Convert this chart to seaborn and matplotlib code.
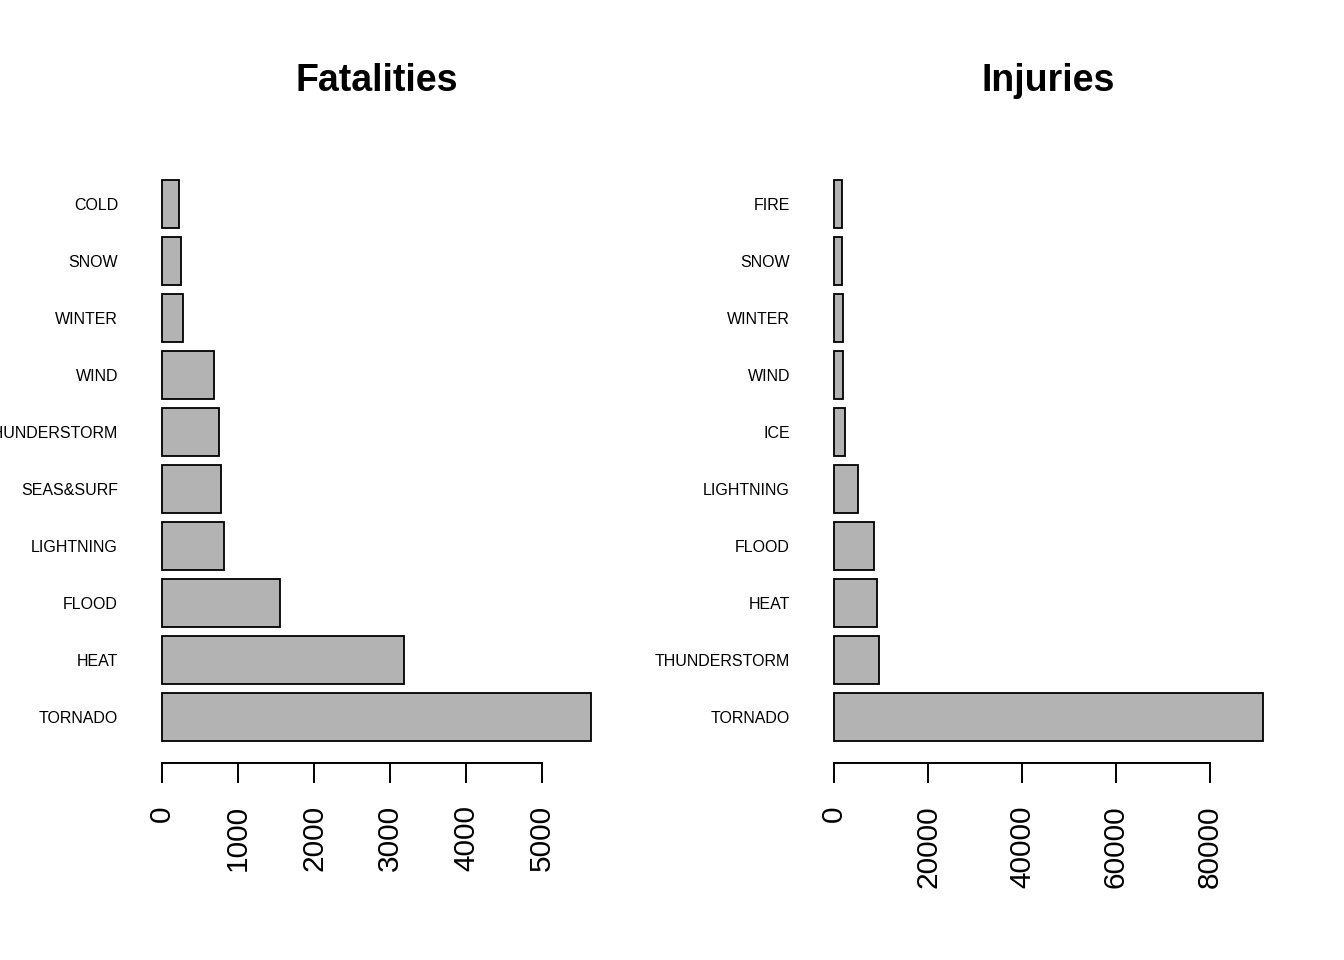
import matplotlib
matplotlib.use("Agg")
import matplotlib.pyplot as plt
import pandas as pd
import seaborn as sns

# ---------------------------------------------------------------------------
# Data (top-to-bottom order as drawn)
# ---------------------------------------------------------------------------
fatal_events = ["COLD", "SNOW", "WINTER", "WIND", "THUNDERSTORM",
                "SEAS&SURF", "LIGHTNING", "FLOOD", "HEAT", "TORNADO"]
fatal_values = [224, 250, 276, 684, 750, 776, 816, 1553, 3184, 5645]
fatal_ticks = [0, 1000, 2000, 3000, 4000, 5000]

injury_events = ["FIRE", "SNOW", "WINTER", "WIND", "ICE",
                 "LIGHTNING", "FLOOD", "HEAT", "THUNDERSTORM", "TORNADO"]
injury_values = [1608, 1700, 1900, 1915, 2340, 5107, 8512, 9150, 9576, 91290]
injury_ticks = [0, 20000, 40000, 60000, 80000]

sns.set_style("white", {"axes.edgecolor": "black", "text.color": "black",
                        "xtick.color": "black", "ytick.color": "black"})
plt.rcParams["font.family"] = ["Liberation Sans", "DejaVu Sans"]

W, H = 1344, 960
fig = plt.figure(figsize=(W / 100, H / 100), dpi=100)


def panel(left_px, right_px, events, values, ticks, title):
    top_px, bottom_px = 158, 763
    ax = fig.add_axes([left_px / W, 1 - bottom_px / H,
                       (right_px - left_px) / W, (bottom_px - top_px) / H])
    df = pd.DataFrame({"event": events, "value": values})
    sns.barplot(data=df, x="value", y="event", order=events, orient="h",
                color="#B3B3B3", saturation=1, edgecolor="black",
                linewidth=1.3, width=0.833, ax=ax)
    vmax = max(values)
    ax.set_xlim(-0.04 * vmax, 1.04 * vmax)
    ax.set_ylim(len(events) - 1 + 0.81, -0.81)
    for side in ["top", "right", "left"]:
        ax.spines[side].set_visible(False)
    ax.spines["bottom"].set_bounds(ticks[0], ticks[-1])
    ax.spines["bottom"].set_linewidth(1.4)
    ax.spines["bottom"].set_color("black")
    ax.set_xticks(ticks)
    ax.set_xticklabels([str(t) for t in ticks], rotation=90, fontsize=21.5)
    ax.tick_params(axis="x", length=14.4, width=1.4, pad=16, bottom=True,
                   colors="black")
    ax.tick_params(axis="y", length=0, pad=19.4, labelsize=11.5,
                   labelcolor="black")
    ax.set_xlabel("")
    ax.set_ylabel("")
    fig.text((left_px + right_px) / 2 / W, 1 - 81 / H, title, color="black",
             ha="center", va="center", fontsize=27, fontweight="bold")
    return ax


panel(145, 608, fatal_events, fatal_values, fatal_ticks, "Fatalities")
panel(817, 1280, injury_events, injury_values, injury_ticks, "Injuries")

fig.savefig("out.png", dpi=100)
